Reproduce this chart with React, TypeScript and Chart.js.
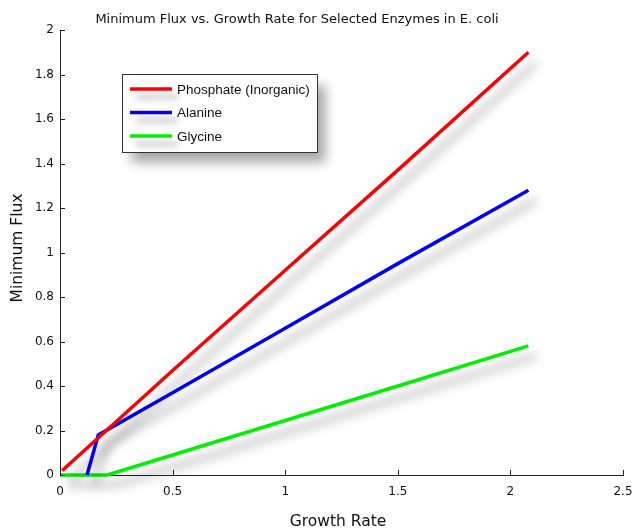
import React, { useEffect, useRef } from 'react';
import { Chart, registerables } from 'chart.js';
Chart.register(...registerables);

const TITLE = 'Minimum Flux vs. Growth Rate for Selected Enzymes in E. coli';
const X_LABEL = 'Growth Rate';
const Y_LABEL = 'Minimum Flux';
const X_TICKS = [0, 0.5, 1, 1.5, 2, 2.5];
const Y_TICKS = [0, 0.2, 0.4, 0.6, 0.8, 1, 1.2, 1.4, 1.6, 1.8, 2];
const SERIES_NAMES = ['Phosphate (Inorganic)', 'Alanine', 'Glycine'];
const SERIES_COLORS = ['#ff0000', '#0000ff', '#00f000'];

const phosphateX = [0.01, 0.5, 1.0, 1.5, 2.08];
const phosphateY = [0.02, 0.47, 0.92, 1.37, 1.9];
const alanineX = [0.12, 0.17, 0.5, 1.0, 1.5, 2.08];
const alanineY = [0, 0.18, 0.37, 0.66, 0.95, 1.28];
const glycineX = [0.0, 0.21, 0.5, 1.0, 1.5, 2.08];
const glycineY = [0, 0, 0.09, 0.245, 0.4, 0.58];

const FONT = '"DejaVu Sans", sans-serif';

const toPts = (xs: number[], ys: number[]) => xs.map((x, i) => ({ x, y: ys[i] }));

const decorPlugin = {
  id: 'decor',
  beforeDatasetsDraw(chart: any) {
    const ctx = chart.ctx;
    ctx.save();
    ctx.shadowColor = 'rgba(0,0,0,0.4)';
    ctx.shadowBlur = 11;
    ctx.shadowOffsetX = 8;
    ctx.shadowOffsetY = 10;
  },
  afterDatasetsDraw(chart: any) {
    chart.ctx.restore();
  },
  afterDraw(chart: any) {
    const ctx = chart.ctx;
    const { left, bottom } = chart.chartArea;
    const xs = chart.scales.x;
    const ys = chart.scales.y;
    ctx.save();
    // inward tick marks
    ctx.strokeStyle = '#222';
    ctx.lineWidth = 1;
    ctx.beginPath();
    X_TICKS.forEach((v) => {
      const px = Math.round(xs.getPixelForValue(v)) + 0.5;
      ctx.moveTo(px, bottom);
      ctx.lineTo(px, bottom - 5);
    });
    Y_TICKS.forEach((v) => {
      const py = Math.round(ys.getPixelForValue(v)) + 0.5;
      ctx.moveTo(left, py);
      ctx.lineTo(left + 5, py);
    });
    ctx.stroke();

    // title
    ctx.fillStyle = '#111';
    ctx.font = `13px ${FONT}`;
    ctx.textAlign = 'center';
    ctx.textBaseline = 'middle';
    ctx.fillText(TITLE, 297, 20);
    // axis labels
    ctx.font = `15.5px ${FONT}`;
    ctx.fillText(X_LABEL, 338, 522);
    ctx.save();
    ctx.translate(18, 248);
    ctx.rotate(-Math.PI / 2);
    ctx.fillText(Y_LABEL, 0, 0);
    ctx.restore();

    // legend
    const bx = 122.5, by = 74.5, bw = 195, bh = 78;
    ctx.save();
    ctx.shadowColor = 'rgba(0,0,0,0.35)';
    ctx.shadowBlur = 11;
    ctx.shadowOffsetX = 8;
    ctx.shadowOffsetY = 10;
    ctx.fillStyle = '#fff';
    ctx.fillRect(bx, by, bw, bh);
    ctx.restore();
    ctx.strokeStyle = '#333';
    ctx.lineWidth = 1;
    ctx.strokeRect(bx, by, bw, bh);
    ctx.font = `13.5px "Liberation Sans", Arial, sans-serif`;
    ctx.textAlign = 'left';
    ctx.textBaseline = 'middle';
    chart.data.datasets.forEach((ds: any, i: number) => {
      const y = 89 + i * 23.5;
      ctx.save();
      ctx.shadowColor = 'rgba(0,0,0,0.3)';
      ctx.shadowBlur = 7;
      ctx.shadowOffsetX = 6;
      ctx.shadowOffsetY = 8;
      ctx.strokeStyle = ds.borderColor;
      ctx.lineWidth = 3.5;
      ctx.beginPath();
      ctx.moveTo(130, y);
      ctx.lineTo(172, y);
      ctx.stroke();
      ctx.restore();
      ctx.fillStyle = '#111';
      ctx.fillText(ds.label, 177, y + 1);
    });
    ctx.restore();
  },
};

export default function App() {
  const ref = useRef<HTMLCanvasElement | null>(null);
  useEffect(() => {
    if (!ref.current) return;
    const series = [toPts(phosphateX, phosphateY), toPts(alanineX, alanineY), toPts(glycineX, glycineY)];
    const chart = new Chart(ref.current, {
      type: 'scatter',
      data: {
        datasets: series.map((d, i) => ({
          label: SERIES_NAMES[i],
          data: d,
          showLine: true,
          borderColor: SERIES_COLORS[i],
          backgroundColor: SERIES_COLORS[i],
          borderWidth: 3.5,
          pointRadius: 0,
          tension: 0,
          clip: false as any,
        })),
      },
      options: {
        animation: false,
        responsive: false,
        maintainAspectRatio: false,
        layout: { padding: { left: 0, top: 30, right: 11, bottom: 0 } },
        plugins: { legend: { display: false }, tooltip: { enabled: false }, title: { display: false } },
        scales: {
          x: {
            type: 'linear',
            min: 0,
            max: 2.5,
            afterBuildTicks: (s: any) => { s.ticks = X_TICKS.map((v) => ({ value: v })); },
            afterFit: (s: any) => { s.height = 56; s.paddingRight = 0; s.paddingLeft = 0; },
            grid: { display: false, drawTicks: false },
            border: { display: true, color: '#222', width: 1 },
            ticks: { color: '#111', padding: 10, font: { family: FONT, size: 12 }, maxRotation: 0, autoSkip: false, callback: (v: any) => String(v) },
          },
          y: {
            type: 'linear',
            min: 0,
            max: 2,
            afterBuildTicks: (s: any) => { s.ticks = Y_TICKS.map((v) => ({ value: v })); },
            afterFit: (s: any) => { s.width = 60; s.paddingTop = 0; s.paddingBottom = 0; },
            grid: { display: false, drawTicks: false },
            border: { display: true, color: '#222', width: 1 },
            ticks: { color: '#111', padding: 6, font: { family: FONT, size: 12 }, autoSkip: false, callback: (v: any) => String(v) },
          },
        },
      } as any,
      plugins: [decorPlugin],
    });
    return () => chart.destroy();
  }, []);
  return (
    <div style={{ position: 'fixed', left: 0, top: 0, width: 634, height: 531, background: '#fff' }}>
      <canvas ref={ref} width={634} height={531} style={{ width: 634, height: 531 }} />
    </div>
  );
}
